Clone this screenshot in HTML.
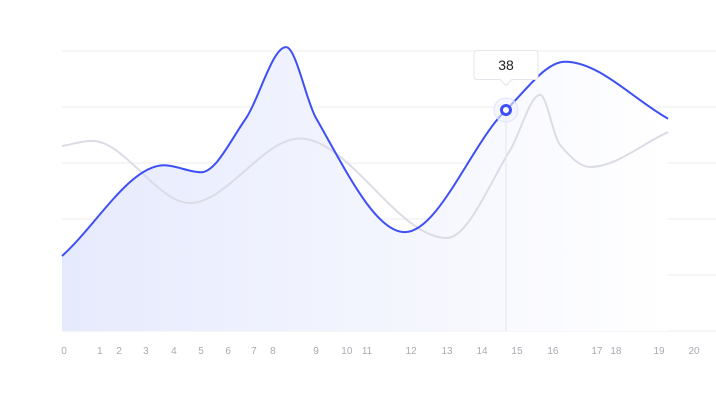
<!DOCTYPE html>
<html><head><meta charset="utf-8"><style>
body{margin:0;background:#fff;}
svg{display:block;font-family:"Liberation Sans","DejaVu Sans",sans-serif;}
</style></head><body>
<svg id="chart" width="716" height="400"></svg>
<script>
const tickLabels=["0","1","2","3","4","5","6","7","8","9","10","11","12","13","14","15","16","17","18","19","20"];
const tickValues=[0,1.14,1.75,2.6,3.49,4.35,5.21,6.03,6.63,8.0,8.98,9.62,11.02,12.16,13.27,14.38,15.52,16.92,17.52,18.89,20];
const blueX=[0,3.23,4.40,5.79,7.09,8.04,10.85,14.05,15.92,19.18];
const blueY=[12.9,28.5,27.3,36.3,48.8,36.6,17.0,38.0,46.3,36.5];
const grayX=[0,0.95,4.05,7.53,12.18,14.18,15.13,15.76,16.71,19.18];
const grayY=[31.8,32.7,22.0,33.1,16.0,31.1,40.6,32.0,28.2,34.2];
const gridTicks=[0,1,2,3,4,5];
const tipX=14.05, tipY=38;

const NS="http://www.w3.org/2000/svg";
const svg=document.getElementById('chart');
const xs=v=>62+v*31.6;
const ys=v=>331-v*5.816;
function el(t,a,p){const e=document.createElementNS(NS,t);for(const k in a)e.setAttribute(k,a[k]);(p||svg).appendChild(e);return e;}
function mono(px,py){
  const n=px.length,d=[],m=[];
  for(let i=0;i<n-1;i++)d.push((py[i+1]-py[i])/(px[i+1]-px[i]));
  m[0]=d[0];m[n-1]=d[n-2];
  for(let i=1;i<n-1;i++){m[i]=d[i-1]*d[i]<=0?0:3*(px[i+1]-px[i-1])/((2*px[i+1]-px[i]-px[i-1])/d[i-1]+(px[i+1]+px[i]-2*px[i-1])/d[i]);}
  let s=`M${px[0]},${py[0]}`;
  for(let i=0;i<n-1;i++){const h=(px[i+1]-px[i])/3;s+=` C${px[i]+h},${py[i]+m[i]*h} ${px[i+1]-h},${py[i+1]-m[i+1]*h} ${px[i+1]},${py[i+1]}`;}
  return s;
}
const defs=el('defs',{});
const g=el('linearGradient',{id:'ag',x1:'0',x2:'1',y1:'0',y2:'0'},defs);
el('stop',{offset:'0','stop-color':'#e6eafd'},g);
el('stop',{offset:'1','stop-color':'#ffffff'},g);
gridTicks.forEach(t=>{
  const l=el('line',{x1:62,x2:716,y1:51+t*56,y2:51+t*56,stroke:'#eeeef2','stroke-width':1});
  
  
});
tickLabels.forEach((t,i)=>{
  const tx=el('text',{x:64+tickValues[i]*31.5,y:354,'text-anchor':'middle','font-size':10,fill:'#a9a9b3'});
  tx.textContent=t;
  
  
});
const bpx=blueX.map(xs),bpy=blueY.map(ys),gpx=grayX.map(xs),gpy=grayY.map(ys);
const bp=mono(bpx,bpy);
const area=el('path',{d:bp+` L${bpx[bpx.length-1]},331 L${bpx[0]},331 Z`,fill:'url(#ag)'});


const gl=el('path',{d:mono(gpx,gpy),fill:'none',stroke:'#dcdce6','stroke-width':2});


const vl=el('line',{x1:xs(tipX),x2:xs(tipX),y1:ys(tipY),y2:331,stroke:'#e4e4ea','stroke-width':1});


const bl=el('path',{d:bp,fill:'none',stroke:'#3d4ff5','stroke-width':2});


const halo=el('circle',{cx:xs(tipX),cy:ys(tipY),r:12,fill:'#eef0fe',stroke:'#dfe3fd','stroke-width':1,'fill-opacity':0.6});


const pt=el('circle',{cx:xs(tipX),cy:ys(tipY),r:4.5,fill:'#fff',stroke:'#3d4ff5','stroke-width':3});


const tg=el('g',{});


const cx=xs(tipX);
el('path',{d:`M${cx-29},50.5 h58 a3,3 0 0 1 3,3 v23 a3,3 0 0 1 -3,3 h-23 l-6,6 l-6,-6 h-23 a3,3 0 0 1 -3,-3 v-23 a3,3 0 0 1 3,-3 z`,fill:'#fff',stroke:'#e4e4ea','stroke-width':1},tg);
const tt=el('text',{x:cx,y:70,'text-anchor':'middle','font-size':14,fill:'#222'},tg);
tt.textContent=String(tipY);


</script>
</body></html>
